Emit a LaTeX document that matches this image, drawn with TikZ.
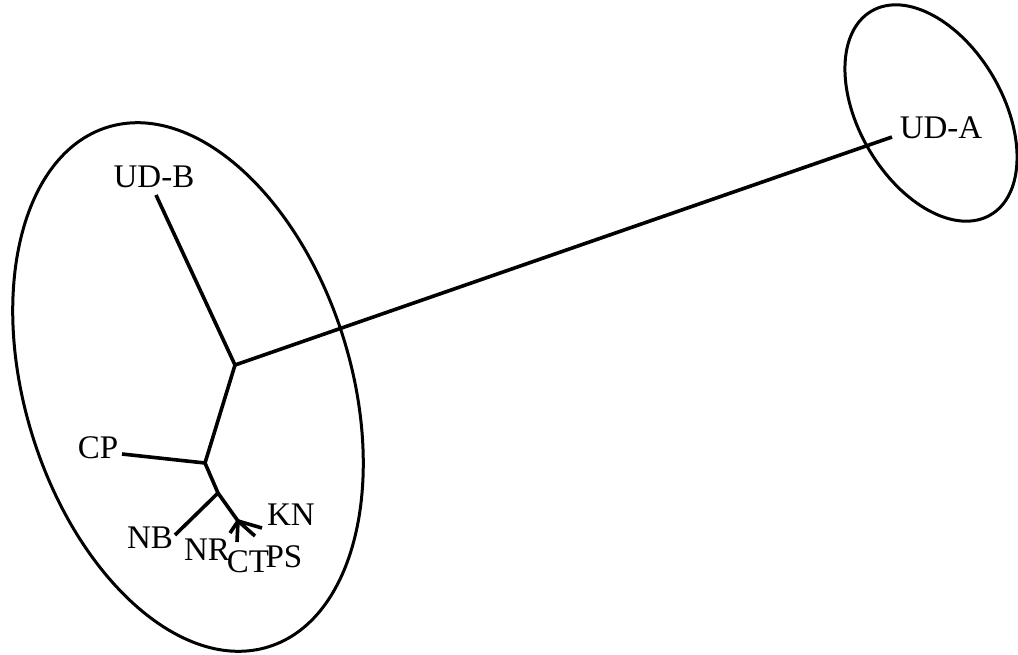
\documentclass[tikz,border=0pt]{standalone}
\usepackage{fontspec}
\setmainfont{Liberation Serif}
\begin{document}
\begin{tikzpicture}[x=0.5pt,y=-0.5pt,line width=1.8pt,
  lbl/.style={anchor=base,inner sep=0pt,font=\fontsize{16.5}{19}\selectfont}]
  \useasboundingbox (0,0) rectangle (1018,654);
  % Groups
  \draw[line width=1.5pt,rotate around={17.2:(188,387)}] (188,387) ellipse [x radius=163, y radius=272];
  \draw[line width=1.5pt,rotate around={30.3:(931,113)}] (931,113) ellipse [x radius=72, y radius=118];
  % Internal nodes
  \coordinate (j1) at (235,365);
  \coordinate (j2) at (205,463);
  \coordinate (j3) at (218,493);
  \coordinate (j4) at (238,521);
  % Leaves
  \coordinate (udb) at (156,195);
  \coordinate (uda) at (892,137);
  \coordinate (cp) at (122,454);
  \coordinate (nb) at (175,535);
  \coordinate (nr) at (230,533);
  \coordinate (ct) at (237,542);
  \coordinate (ps) at (255,536);
  \coordinate (kn) at (262,528);
  % Labels
  \node[lbl] (tudb) at (154,187) {UD-B};
  \node[lbl] (tuda) at (941,138) {UD-A};
  \node[lbl] (tcp) at (98,458) {CP};
  \node[lbl] (tnb) at (150,548) {NB};
  \node[lbl] (tnr) at (207,560) {NR};
  \node[lbl] (tct) at (248,572) {CT};
  \node[lbl] (tps) at (284,567) {PS};
  \node[lbl] (tkn) at (291,525) {KN};
  % Tree
  \draw (udb) -- (j1) -- (uda);
  \draw (j1) -- (j2) -- (cp);
  \draw (j2) -- (j3) -- (nb);
  \draw (j3) -- (j4);
  \foreach \leaf in {nr,ct,ps,kn}
    \draw (j4) -- (\leaf);
\end{tikzpicture}
\end{document}
